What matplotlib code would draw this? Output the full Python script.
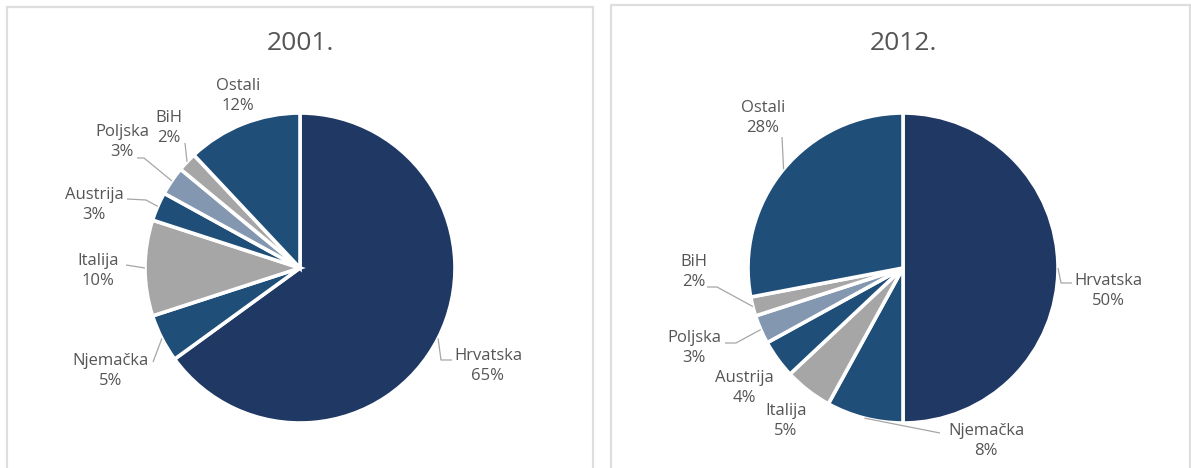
import numpy as np
import matplotlib
matplotlib.use("Agg")
import matplotlib.pyplot as plt
from matplotlib.patches import Rectangle

# ---------------- data ----------------
countries = ["Hrvatska", "Njemačka", "Italija", "Austrija", "Poljska", "BiH", "Ostali"]
share_2001 = [65, 5, 10, 3, 3, 2, 12]
share_2012 = [50, 8, 5, 4, 3, 2, 28]
years = ["2001.", "2012."]

# ---------------- styles ----------------
NAVY = "#203864"
BLUE = "#1f4e79"
GRAY = "#a6a6a6"
LIGHT = "#8497b0"
slice_colors = [NAVY, BLUE, GRAY, BLUE, LIGHT, GRAY, BLUE]
TXT = "#555555"
FONT = "Open Sans"

W, H = 1191, 468
R = 155.0  # pie radius in px

# layout (pixel coordinates, top-left origin)
panels = [
    dict(center=(300, 268), ax_x=(10, 590), box=(7, 7, 593),
         labels={"Hrvatska": (488, 366), "Njemačka": (111, 371), "Italija": (98, 271),
                 "Austrija": (94, 205), "Poljska": (122, 142), "BiH": (169, 128),
                 "Ostali": (238, 96)},
         leaders={"Hrvatska": [(441, 360), (452, 360)],
                  "Njemačka": [(153, 362)],
                  "Italija": [(126, 265)],
                  "Austrija": [(146, 200), (127, 199)],
                  "Poljska": [(144, 158), (137, 158)],
                  "BiH": [(185, 143)]},
         title_y=43),
    dict(center=(903, 268), ax_x=(610, 1190), box=(611, 5, 1190),
         labels={"Hrvatska": (1108, 291), "Njemačka": (986, 441), "Italija": (786, 421),
                 "Austrija": (744, 388), "Poljska": (694, 348), "BiH": (694, 272),
                 "Ostali": (763, 118)},
         leaders={"Hrvatska": [(1061, 283), (1072, 283)],
                  "Njemačka": [(940, 433)],
                  "Poljska": [(736, 343), (725, 343)],
                  "BiH": [(717, 287), (707, 287)],
                  "Ostali": [(782, 137)]},
         title_y=43),
]
series = [share_2001, share_2012]

fig = plt.figure(figsize=(W / 100, H / 100), dpi=100)
fig.patch.set_facecolor("white")

for p, vals, year in zip(panels, series, years):
    cx, cy = p["center"]
    x0, x1 = p["ax_x"]
    ax = fig.add_axes([x0 / W, 0, (x1 - x0) / W, 1])
    ax.pie(vals, colors=slice_colors, startangle=90, counterclock=False,
           radius=1, wedgeprops=dict(edgecolor="white", linewidth=2.6))
    ax.set_aspect("auto")
    ax.set_xlim((x0 - cx) / R, (x1 - cx) / R)
    ax.set_ylim((cy - H) / R, cy / R)
    ax.axis("off")

    def d(pt):
        return ((pt[0] - cx) / R, (cy - pt[1]) / R)

    # title
    tx, ty = d((cx, p["title_y"]))
    ax.text(tx, ty, year, ha="center", va="center", fontsize=19,
            color=TXT, family=FONT)

    total = float(sum(vals))
    cum = np.cumsum([0] + list(vals))
    for i, name in enumerate(countries):
        mid = (cum[i] + cum[i + 1]) / 2 / total * 2 * np.pi
        edge = (np.sin(mid), np.cos(mid))
        lx, ly = d(p["labels"][name])
        ax.text(lx, ly, f"{name}\n{vals[i]}%", ha="center", va="center",
                fontsize=12, color=TXT, family=FONT, linespacing=1.4,
                multialignment="center")
        if name in p["leaders"]:
            pts = [edge] + [d(q) for q in p["leaders"][name]]
            xs, ys = zip(*pts)
            ax.plot(xs, ys, color="#a6a6a6", lw=0.9, solid_capstyle="butt",
                    zorder=5)

    bx0, by0, bx1 = p["box"]
    fig.add_artist(Rectangle((bx0 / W, -0.05), (bx1 - bx0) / W, 1.05 - by0 / H,
                             transform=fig.transFigure, fill=False,
                             edgecolor="#dedede", linewidth=1.6))

fig.savefig("out.png", dpi=100, facecolor="white")
